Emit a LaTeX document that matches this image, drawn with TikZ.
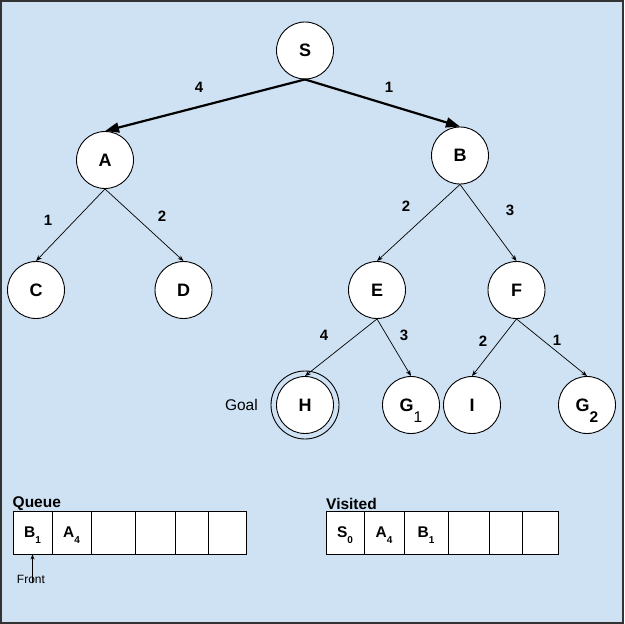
\documentclass[tikz,border=0pt]{standalone}
\usepackage{fontspec}
\setmainfont{Liberation Sans}
\usetikzlibrary{arrows.meta}
\definecolor{paneblue}{HTML}{CFE2F3}
\definecolor{frameline}{HTML}{333333}
% lowered index that does not change the box size
\newcommand\lowidx[3]{\raisebox{-#1}[0pt][0pt]{\fontsize{#2}{#2}\selectfont #3}}
\begin{document}
\begin{tikzpicture}[x=1pt,y=-1pt,
  state/.style={circle, draw=black, fill=white, line width=0.9pt, minimum size=57pt,
    inner sep=0pt, font=\fontsize{18}{18}\selectfont\bfseries},
  heavy/.style={line width=2.2pt, -{Triangle[length=14pt,width=10pt]}},
  light/.style={line width=0.7pt, -{Stealth[length=6pt,width=4.5pt]}},
  wt/.style={font=\fontsize{15}{15}\selectfont\bfseries, inner sep=0pt},
  cell/.style={draw=black, fill=white, line width=0.9pt, minimum height=43pt,
    inner sep=0pt, font=\fontsize{15.5}{15.5}\selectfont\bfseries},
  title/.style={anchor=west, inner sep=0pt, font=\fontsize{15.5}{15.5}\selectfont\bfseries},
]
\useasboundingbox (0,0) rectangle (624,624);
\fill[paneblue] (0,0) rectangle (624,624);
\draw[frameline, line width=2pt] (1,1) rectangle (623,623);

% search tree
\node[state] (S) at (305,50.5) {S};
\node[state] (A) at (105,160) {A};
\node[state] (B) at (460,155.5) {B};
\node[state] (C) at (36,290) {C};
\node[state] (D) at (183.5,290) {D};
\node[state] (E) at (377,290) {E};
\node[state] (F) at (516.5,290) {F};
\node[state] (H) at (305,405) {H};
\draw[line width=0.9pt] (H) circle (34);
\node[state] (G1) at (411,405) {G\lowidx{11pt}{15.5}{\mdseries 1}};
\node[state] (I) at (472,405) {I};
\node[state] (G2) at (587,405) {G\lowidx{11pt}{15.5}{2}};
\node[anchor=east, inner sep=0pt, font=\fontsize{15.5}{15.5}\selectfont] (goal) at (258,405) {Goal};

\draw[heavy] (S.south) -- (A.north);
\draw[heavy] (S.south) -- (B.north);
\draw[light] (A.south) -- (C.north);
\draw[light] (A.south) -- (D.north);
\draw[light] (B.south) -- (E.north);
\draw[light] (B.south) -- (F.north);
\draw[light] (E.south) -- (H.north);
\draw[light] (E.south) -- (G1.north);
\draw[light] (F.south) -- (I.north);
\draw[light] (F.south) -- (G2.north);

% edge costs
\node[wt] (wSA) at (199,87) {4};
\node[wt] (wSB) at (389,87) {1};
\node[wt] (wAC) at (48,220) {1};
\node[wt] (wAD) at (162,216) {2};
\node[wt] (wBE) at (406,206) {2};
\node[wt] (wBF) at (510,210) {3};
\node[wt] (wEH) at (324,335) {4};
\node[wt] (wEG) at (404,335) {3};
\node[wt] (wFI) at (483,341) {2};
\node[wt] (wFG) at (557,340) {1};

% queue
\node[title] (qtitle) at (12.5,504) {Queue};
\node[cell, minimum width=39pt] (q1) at (32.5,532.5) {B\lowidx{6pt}{10}{1}};
\node[cell, minimum width=39pt] (q2) at (71.5,532.5) {A\lowidx{6pt}{10}{4}};
\node[cell, minimum width=44pt] (q3) at (113,532.5) {};
\node[cell, minimum width=40pt] (q4) at (155,532.5) {};
\node[cell, minimum width=33pt] (q5) at (191.5,532.5) {};
\node[cell, minimum width=38pt] (q6) at (227,532.5) {};
\node[inner sep=0pt, font=\fontsize{12}{12}\selectfont] (front) at (31,579) {Front};
\draw[line width=0.7pt, -{Stealth[length=5pt,width=4pt]}] (front.south -| q1.south) -- (q1.south);

% visited list
\node[title] (vtitle) at (326,504) {Visited};
\node[cell, minimum width=38pt] (v1) at (345,532.5) {S\lowidx{6pt}{10}{0}};
\node[cell, minimum width=40pt] (v2) at (384,532.5) {A\lowidx{6pt}{10}{4}};
\node[cell, minimum width=44pt] (v3) at (426,532.5) {B\lowidx{6pt}{10}{1}};
\node[cell, minimum width=41pt] (v4) at (468.5,532.5) {};
\node[cell, minimum width=33pt] (v5) at (505.5,532.5) {};
\node[cell, minimum width=36pt] (v6) at (540,532.5) {};
\end{tikzpicture}
\end{document}
